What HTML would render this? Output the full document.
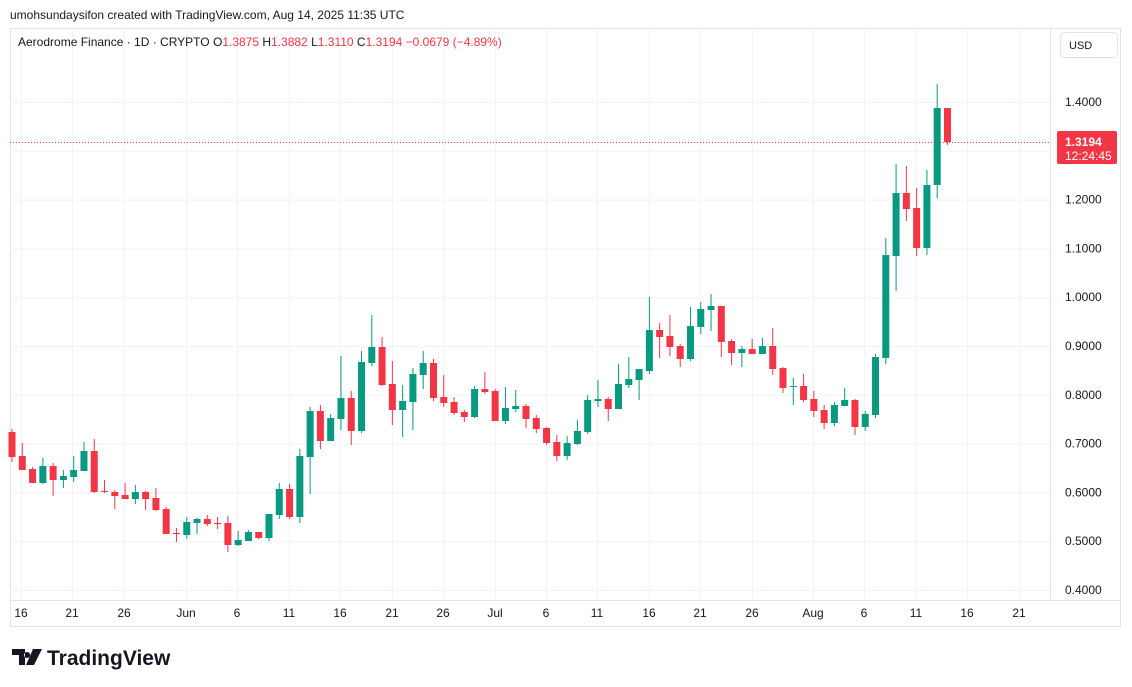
<!DOCTYPE html>
<html><head><meta charset="utf-8"><style>
body{margin:0;width:1132px;height:687px;background:#fff;overflow:hidden;font-family:"Liberation Sans",sans-serif;position:relative}
svg{position:absolute;left:0;top:0}
</style></head><body>
<svg id="s" width="1132" height="687" xmlns="http://www.w3.org/2000/svg" font-family="Liberation Sans, sans-serif">
<text x="10" y="19" font-size="12" fill="#131722">umohsundaysifon created with TradingView.com, Aug 14, 2025 11:35 UTC</text>
<rect x="10.5" y="28.5" width="1110" height="598" fill="none" stroke="#e0e3eb"/>
<line x1="10" y1="600.5" x2="1121" y2="600.5" stroke="#e0e3eb"/>
<line x1="1050.5" y1="28" x2="1050.5" y2="600" stroke="#e0e3eb"/>
<g id="grid" stroke="#f0f3fa"></g>
<g id="c"></g>
<line x1="10" y1="142.5" x2="1050" y2="142.5" stroke="#F23645" stroke-dasharray="1,2"/>
<text x="18" y="46" font-size="12" fill="#131722">Aerodrome Finance · 1D · CRYPTO <tspan fill="#131722">O</tspan><tspan fill="#F23645">1.3875</tspan> <tspan>H</tspan><tspan fill="#F23645">1.3882</tspan> <tspan>L</tspan><tspan fill="#F23645">1.3110</tspan> <tspan>C</tspan><tspan fill="#F23645">1.3194</tspan> <tspan fill="#F23645">−0.0679 (−4.89%)</tspan></text>
<rect x="1060.5" y="32.5" width="57" height="25" rx="4" fill="#fff" stroke="#e0e3eb"/>
<text x="1069" y="49" font-size="11" fill="#131722">USD</text>
<g id="py" font-size="12" fill="#131722"></g>
<rect x="1057" y="131" width="60" height="33" rx="2" fill="#F23645"/>
<text x="1065" y="146" font-size="12" fill="#fff" font-weight="bold">1.3194</text>
<text x="1065" y="160" font-size="12" fill="#fff">12:24:45</text>
<g id="tx" font-size="12" fill="#131722" text-anchor="middle"></g>
<path d="M12 649h13v16h-6v-10h-7z M27 652a3 3 0 1 0 0.1 0z M33 649h9l-8 16h-8z" fill="#131722"/>
<text x="47" y="665" font-size="21" font-weight="bold" fill="#131722">TradingView</text>
</svg>
<script>
var d=[
[429,432,457,462,0],[443,456,470,470,0],[467,469,483,483,0],[458,466,483,484,1],[463,466,480,496,0],[470,476,480,488,1],[456,470,477,482,1],[442,451,471,471,1],[439,451,492,493,0],[480,491,492,493,0],
[490,492,496,509,0],[483,495,499,499,0],[485,492,499,504,1],[491,492,499,510,0],[488,498,510,511,0],[507,509,534,534,0],[528,533,534,542,0],[517,522,535,539,1],[518,519,523,534,1],[515,519,524,526,0],
[517,523,524,529,0],[516,523,545,552,0],[531,540,545,546,1],[530,532,541,541,1],[532,532,538,539,0],[514,514,538,541,1],[483,489,515,519,1],[484,489,517,519,0],[449,456,517,523,1],[407,411,457,494,1],
[405,411,441,449,0],[414,418,441,441,1],[356,398,419,430,1],[391,398,431,445,0],[351,362,431,433,1],[315,347,363,366,1],[337,347,385,386,0],[361,384,410,425,0],[385,401,410,437,1],[368,374,402,430,1],
[351,363,375,389,1],[359,363,398,401,0],[375,397,403,407,0],[397,402,413,415,0],[410,412,417,422,0],[386,389,417,418,1],[372,389,392,394,0],[389,391,421,421,0],[387,408,421,424,1],[390,406,409,412,1],
[404,406,419,428,0],[415,418,429,433,0],[427,428,443,445,0],[435,442,456,461,0],[436,443,456,460,1],[420,431,444,445,1],[395,400,432,434,1],[380,399,401,407,1],[397,399,409,421,0],[364,384,409,409,1],
[357,379,385,388,1],[369,369,380,400,1],[297,330,371,374,1],[323,330,337,358,0],[315,336,347,356,0],[344,346,359,367,0],[307,326,359,361,1],[302,309,327,334,1],[294,306,310,331,1],[306,306,342,357,0],
[339,341,353,365,0],[346,349,353,367,1],[339,349,354,354,0],[338,346,354,354,1],[328,346,369,375,0],[367,368,388,393,0],[378,386,387,405,1],[374,386,400,402,0],[391,399,411,417,0],[405,410,423,429,0],
[402,405,423,426,1],[388,400,406,406,1],[399,400,427,435,0],[411,414,427,431,1],[354,357,415,418,1],[238,255,358,364,1],[164,193,256,291,1],[166,193,209,221,0],[188,208,248,256,0],[170,185,248,255,1],
[84,108,185,198,1],[108,108,142,145,0]];
var h='';
d.forEach(function(c,i){var x=12+10.28*i,col=c[4]?'#089981':'#F23645';var bt=c[1],bb=Math.max(c[2],c[1]+1);
h+='<line x1="'+x+'" y1="'+c[0]+'" x2="'+x+'" y2="'+c[3]+'" stroke="'+col+'"/><rect x="'+(x-3.5)+'" y="'+bt+'" width="7" height="'+(bb-bt)+'" fill="'+col+'"/>';});
document.getElementById('c').innerHTML=h;
var g='',p='';
for(var k=0;k<11;k++){var v=0.4+k*0.1,y=590-k*48.8;g+='<line x1="10" y1="'+(y+.5)+'" x2="1050" y2="'+(y+.5)+'"/>';if(k<=10&&v<1.45)p+='<text x="1065" y="'+(y+4)+'">'+v.toFixed(4)+'</text>';}
var t=[[21,'16'],[72,'21'],[124,'26'],[186,'Jun'],[237,'6'],[289,'11'],[340,'16'],[392,'21'],[443,'26'],[495,'Jul'],[546,'6'],[597,'11'],[649,'16'],[700,'21'],[752,'26'],[813,'Aug'],[864,'6'],[916,'11'],[967,'16'],[1019,'21']],tx='';
t.forEach(function(a){g+='<line x1="'+(a[0]+.5)+'" y1="29" x2="'+(a[0]+.5)+'" y2="600"/>';tx+='<text x="'+a[0]+'" y="617">'+a[1]+'</text>';});
document.getElementById('grid').innerHTML=g;document.getElementById('py').innerHTML=p;document.getElementById('tx').innerHTML=tx;
</script>
</body></html>
